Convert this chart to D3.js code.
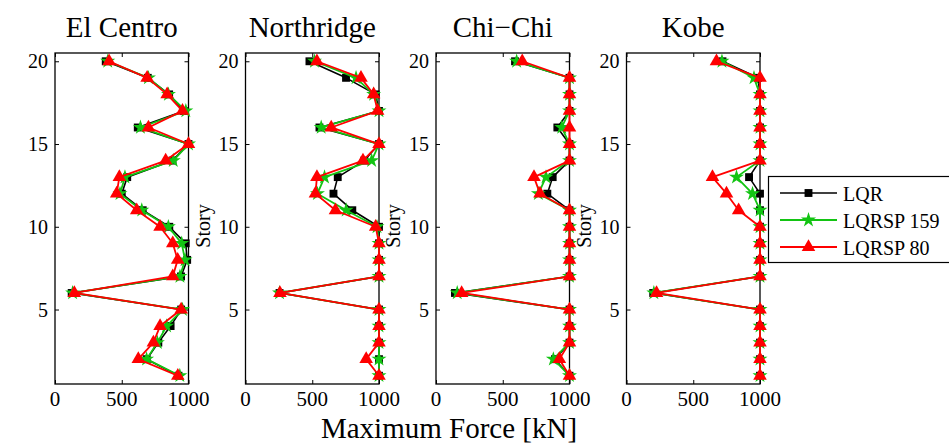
<!DOCTYPE html>
<html>
<head>
<meta charset="utf-8">
<script src="https://cdn.jsdelivr.net/npm/d3@7"></script>
<style>
  html, body { margin: 0; padding: 0; background: #fff; }
  svg { display: block; }
</style>
</head>
<body>
<svg id="chart" width="949" height="444"></svg>
<script>
// Story numbers (1 = ground floor)
const stories = d3.range(1, 21);

const earthquakes = ["El Centro", "Northridge", "Chi\u2212Chi", "Kobe"];
const seriesNames = ["LQR", "LQRSP 159", "LQRSP 80"];

// Maximum force per story [kN], listed from story 1 to story 20
const elCentroLQR   = [925, 687, 774, 866, 945, 125, 944, 990, 979, 856, 657, 500, 541, 880, 1000, 620, 965, 855, 695, 380];
const elCentro159   = [935, 686, 767, 836, 955, 132, 936, 974, 949, 849, 650, 487, 524, 886, 1000, 640, 980, 850, 700, 395];
const elCentro80    = [920, 624, 737, 787, 945, 145, 882, 919, 882, 787, 612, 462, 482, 829, 1000, 700, 955, 840, 690, 405];

const northridgeLQR = [1000, 1000, 1000, 1000, 1000, 255, 1000, 1000, 1000, 1000, 800, 659, 691, 890, 1000, 554, 1000, 975, 753, 479];
const northridge159 = [1000, 1000, 1000, 1000, 1000, 255, 1000, 1000, 1000, 985, 754, 539, 592, 945, 1000, 567, 1000, 960, 828, 517];
const northridge80  = [1000, 904, 1000, 1000, 1000, 258, 1000, 1000, 1000, 975, 674, 524, 535, 880, 1000, 642, 990, 960, 865, 535];

const chiChiLQR     = [1000, 891, 1000, 1000, 1000, 142, 1000, 1000, 1000, 1000, 1000, 834, 874, 1000, 1000, 909, 1000, 1000, 1000, 592];
const chiChi159     = [1000, 879, 1000, 1000, 1000, 159, 1000, 1000, 1000, 1000, 1000, 767, 824, 1000, 1000, 942, 1000, 1000, 1000, 604];
const chiChi80      = [1000, 924, 1000, 1000, 1000, 192, 1000, 1000, 1000, 1000, 1000, 779, 734, 1000, 1000, 1000, 1000, 1000, 1000, 646];

const kobeLQR       = [1000, 1000, 1000, 1000, 1000, 200, 1000, 1000, 1000, 1000, 1000, 1000, 918, 1000, 1000, 1000, 1000, 1000, 985, 719];
const kobe159       = [1000, 1000, 1000, 1000, 1000, 205, 1000, 1000, 1000, 1000, 1000, 944, 824, 1000, 1000, 1000, 1000, 1000, 955, 715];
const kobe80        = [1000, 1000, 1000, 1000, 1000, 225, 1000, 1000, 1000, 1000, 840, 749, 644, 1000, 1000, 1000, 1000, 1000, 1000, 674];

const xTicks = [0, 500, 1000];
const yTicks = [5, 10, 15, 20];

const panelData = [
  [elCentroLQR, elCentro159, elCentro80],
  [northridgeLQR, northridge159, northridge80],
  [chiChiLQR, chiChi159, chiChi80],
  [kobeLQR, kobe159, kobe80]
];

// Styling of the three controllers
const colors = ["#000000", "#13c413", "#ff0000"];
const lineWidths = [1.6, 1.8, 1.8];
const symbols = [
  d3.symbol().type(d3.symbolSquare).size(62),
  d3.symbol().type(d3.symbolStar).size(70),
  d3.symbol().type(d3.symbolTriangle).size(80)
];

const FONT = '"Liberation Serif", "Times New Roman", Times, serif';
const label = (sel) => sel.style("font-family", FONT).attr("fill", "#000");

const svg = d3.select("#chart");

const panelLeft = 55, panelStep = 190.5, panelWidth = 133.5;
const plotTop = 53, plotBottom = 384;

const y = d3.scaleLinear().domain([0.5, 20.5]).range([plotBottom, plotTop]);

panelData.forEach((series, p) => {
  const left = panelLeft + p * panelStep;
  const x = d3.scaleLinear().domain([0, 1000]).range([left, left + panelWidth]);
  const g = svg.append("g");

  // Tick marks point inward on all four sides
  const tickLen = 4;
  g.append("g").attr("transform", `translate(0,${plotBottom})`)
    .call(d3.axisBottom(x).tickValues(xTicks).tickSize(-tickLen).tickFormat(""))
    .call(s => s.select(".domain").remove());
  g.append("g").attr("transform", `translate(0,${plotTop})`)
    .call(d3.axisTop(x).tickValues(xTicks).tickSize(-tickLen).tickFormat(""))
    .call(s => s.select(".domain").remove());
  g.append("g").attr("transform", `translate(${left},0)`)
    .call(d3.axisLeft(y).tickValues(yTicks).tickSize(-tickLen).tickFormat(""))
    .call(s => s.select(".domain").remove());
  g.append("g").attr("transform", `translate(${left + panelWidth},0)`)
    .call(d3.axisRight(y).tickValues(yTicks).tickSize(-tickLen).tickFormat(""))
    .call(s => s.select(".domain").remove());
  g.selectAll(".tick line").attr("stroke", "#000").attr("stroke-width", 1);

  // Box
  g.append("rect")
    .attr("x", left).attr("y", plotTop)
    .attr("width", panelWidth).attr("height", plotBottom - plotTop)
    .attr("fill", "none").attr("stroke", "#000").attr("stroke-width", 1.3);

  // Tick labels
  g.selectAll(".xl").data(xTicks).join("text")
    .attr("x", d => x(d)).attr("y", 405.5)
    .attr("text-anchor", "middle").attr("font-size", 21)
    .call(label)
    .text(d => d);
  g.selectAll(".yl").data(yTicks).join("text")
    .attr("x", left - 7).attr("y", d => y(d) + 7)
    .attr("text-anchor", "end").attr("font-size", 20)
    .call(label)
    .text(d => d);

  // Title
  g.append("text")
    .attr("x", left + panelWidth / 2).attr("y", 37)
    .attr("text-anchor", "middle").attr("font-size", 29)
    .call(label)
    .text(earthquakes[p]);

  // Story label for panels that have room for it
  if (p > 0) {
    g.append("text")
      .attr("transform", `translate(${left - 36},226) rotate(-90)`)
      .attr("text-anchor", "middle").attr("font-size", 20)
      .call(label)
      .text("Story");
  }

  // Series lines and markers
  const line = d3.line().x(d => x(d.v)).y(d => y(d.s));
  series.forEach((vals, k) => {
    const pts = stories.map((s, i) => ({ s, v: vals[i] }));
    g.append("path").datum(pts)
      .attr("d", line).attr("fill", "none")
      .attr("stroke", colors[k]).attr("stroke-width", lineWidths[k])
      .attr("stroke-linejoin", "round");
    g.selectAll(null).data(pts).join("path")
      .attr("transform", d => `translate(${x(d.v)},${y(d.s)})`)
      .attr("d", symbols[k]).attr("fill", colors[k]);
  });
});

// Shared x-axis label
svg.append("text")
  .attr("x", 449).attr("y", 437.5)
  .attr("text-anchor", "middle").attr("font-size", 29)
  .call(label)
  .text("Maximum Force [kN]");

// Legend
const lg = svg.append("g");
lg.append("rect")
  .attr("x", 768.5).attr("y", 176.5).attr("width", 190).attr("height", 86)
  .attr("fill", "#fff").attr("stroke", "#000").attr("stroke-width", 1.2);
seriesNames.forEach((name, k) => {
  const ly = 193 + k * 27;
  lg.append("line")
    .attr("x1", 780).attr("x2", 837).attr("y1", ly).attr("y2", ly)
    .attr("stroke", colors[k]).attr("stroke-width", lineWidths[k]);
  lg.append("path")
    .attr("transform", `translate(808.5,${ly})`)
    .attr("d", symbols[k]).attr("fill", colors[k]);
  lg.append("text")
    .attr("x", 843).attr("y", ly + 8).attr("font-size", 20)
    .call(label)
    .text(name);
});
</script>
</body>
</html>
